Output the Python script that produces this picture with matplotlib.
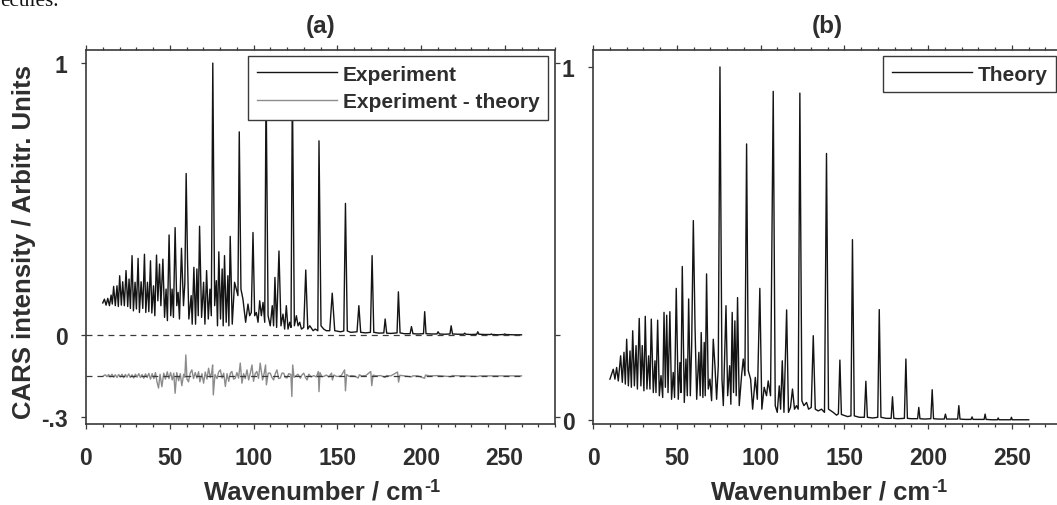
import matplotlib
matplotlib.use("Agg")
import matplotlib.pyplot as plt
from matplotlib.ticker import MultipleLocator, FixedLocator
from matplotlib.lines import Line2D

# ---------------- data ----------------
exp_x = [10.0, 11.0, 12.0, 13.0, 14.0, 15.0, 15.7, 16.5, 17.5, 18.5, 19.3, 20.1, 21.1, 21.9, 22.9, 23.9,
         24.9, 25.7, 26.5, 27.5, 28.3, 29.3, 30.1, 31.1, 31.9, 32.9, 33.9, 34.9, 35.7, 36.7, 37.5, 38.5,
         39.3, 40.3, 41.1, 42.1, 42.9, 43.9, 44.7, 45.9, 46.9, 47.8, 48.6, 49.6, 50.6, 51.4, 52.2, 53.2,
         54.2, 55.0, 55.8, 57.0, 58.2, 59.0, 59.8, 60.6, 61.4, 62.8, 63.4, 64.4, 65.4, 66.2, 67.0, 67.8,
         69.0, 70.2, 71.0, 72.0, 73.0, 74.0, 74.8, 75.7, 76.8, 77.8, 78.5, 79.3, 80.3, 81.3, 81.9, 82.7,
         83.7, 84.7, 85.3, 86.1, 87.3, 88.7, 89.7, 90.7, 91.5, 92.5, 93.7, 95.3, 96.7, 97.7, 98.7, 99.7,
         100.7, 101.7, 102.7, 103.7, 104.7, 105.7, 106.7, 107.5, 108.7, 110.0, 111.2, 112.0, 112.8, 113.8,
         115.2, 116.4, 117.6, 118.6, 119.6, 120.6, 121.6, 122.4, 123.2, 124.4, 125.6, 126.6, 127.6, 128.6,
         130.0, 131.2, 132.4, 133.6, 135.6, 136.8, 138.4, 139.1, 140.3, 141.9, 143.5, 145.5, 147.0, 148.5,
         152.0, 153.9, 154.9, 156.0, 158.0, 161.8, 162.9, 164.0, 167.0, 169.8, 170.8, 171.8, 175.0, 177.8,
         178.6, 179.5, 182.0, 185.7, 186.5, 187.5, 190.0, 193.5, 194.3, 195.2, 198.0, 201.5, 202.2, 203.0,
         206.0, 209.5, 210.2, 211.0, 214.0, 217.3, 218.0, 218.8, 222.0, 225.5, 226.1, 226.8, 230.0, 233.3,
         233.9, 234.6, 238.0, 241.5, 242.0, 242.5, 246.0, 249.4, 250.0, 250.6, 255.0, 260.0]
exp_y = [0.118, 0.132, 0.110, 0.135, 0.108, 0.147, 0.114, 0.179, 0.108, 0.181, 0.105, 0.218, 0.110, 0.196, 0.108, 0.237,
         0.105, 0.206, 0.098, 0.292, 0.089, 0.194, 0.096, 0.282, 0.083, 0.196, 0.098, 0.297, 0.083, 0.194, 0.086, 0.273,
         0.081, 0.181, 0.071, 0.294, 0.126, 0.261, 0.108, 0.279, 0.065, 0.169, 0.053, 0.368, 0.071, 0.169, 0.065, 0.395,
         0.108, 0.157, 0.059, 0.319, 0.108, 0.190, 0.594, 0.279, 0.059, 0.145, 0.040, 0.249, 0.040, 0.243, 0.071, 0.400,
         0.065, 0.194, 0.040, 0.237, 0.059, 0.169, 0.071, 1.000, 0.108, 0.200, 0.034, 0.306, 0.059, 0.243, 0.034, 0.292,
         0.047, 0.218, 0.034, 0.363, 0.040, 0.194, 0.169, 0.145, 0.747, 0.169, 0.132, 0.047, 0.114, 0.071, 0.083, 0.377,
         0.071, 0.083, 0.047, 0.126, 0.071, 0.120, 0.047, 0.930, 0.071, 0.034, 0.108, 0.034, 0.212, 0.028,
         0.309, 0.034, 0.077, 0.022, 0.108, 0.022, 0.047, 0.028, 0.920, 0.034, 0.071, 0.034, 0.047, 0.022,
         0.028, 0.239, 0.022, 0.034, 0.016, 0.022, 0.016, 0.714, 0.034, 0.022, 0.016, 0.016, 0.154, 0.016,
         0.012, 0.015, 0.484, 0.015, 0.010, 0.012, 0.108, 0.010, 0.008, 0.010, 0.292, 0.010, 0.007, 0.008,
         0.059, 0.007, 0.006, 0.008, 0.159, 0.008, 0.005, 0.005, 0.031, 0.005, 0.004, 0.005, 0.086, 0.005,
         0.004, 0.004, 0.012, 0.004, 0.003, 0.004, 0.034, 0.004, 0.003, 0.003, 0.007, 0.003, 0.002, 0.003,
         0.012, 0.003, 0.002, 0.002, 0.004, 0.002, 0.001, 0.002, 0.004, 0.002, 0.001, 0.001]

theo_x = [10.1, 11.1, 12.1, 13.1, 14.1, 15.1, 16.5, 17.5, 18.5, 19.3, 20.1, 21.1, 22.1, 22.9, 23.7, 24.7,
          25.7, 26.5, 27.6, 28.6, 29.4, 30.4, 31.2, 32.2, 33.2, 34.0, 34.8, 36.0, 37.0, 37.6, 38.6, 39.6,
          40.6, 41.6, 42.4, 43.2, 44.0, 44.8, 45.9, 46.9, 47.9, 48.7, 49.7, 50.9, 51.9, 52.5, 53.3, 54.5,
          55.5, 56.3, 57.1, 58.1, 58.9, 59.9, 60.9, 61.9, 63.2, 64.0, 64.6, 65.6, 66.4, 67.0, 67.8, 68.8,
          69.8, 70.8, 71.8, 72.8, 73.8, 74.8, 75.8, 77.0, 77.8, 79.4, 80.4, 81.6, 82.3, 83.1, 83.9, 84.7,
          85.5, 86.3, 87.3, 88.7, 89.7, 90.7, 91.7, 92.7, 94.1, 95.3, 96.9, 98.1, 99.6, 100.8, 102.2, 103.6,
          104.6, 106.0, 107.6, 108.8, 110.0, 111.2, 112.0, 113.0, 114.0, 115.6, 116.7, 117.9, 119.1, 120.3,
          121.5, 122.5, 123.5, 124.7, 125.9, 127.5, 128.7, 130.3, 131.5, 132.7, 134.5, 136.4, 138.2, 139.4,
          140.6, 143.4, 145.4, 146.5, 147.4, 148.3, 152.0, 154.0, 154.9, 156.0, 159.0, 162.0, 162.9, 163.8,
          167.0, 170.0, 170.9, 171.9, 175.0, 178.0, 178.8, 179.6, 182.0, 185.9, 186.8, 187.7, 190.0, 193.8,
          194.5, 195.2, 198.0, 201.7, 202.5, 203.3, 206.0, 209.7, 210.4, 211.1, 214.0, 217.7, 218.4, 219.1,
          222.0, 225.7, 226.3, 226.9, 230.0, 233.5, 234.1, 234.7, 238.0, 241.4, 241.9, 242.4, 246.0, 249.3,
          249.8, 250.3, 255.0, 260.1]
theo_y = [0.116, 0.130, 0.144, 0.116, 0.149, 0.111, 0.182, 0.107, 0.192, 0.102, 0.229, 0.097, 0.196, 0.093, 0.253, 0.097,
          0.211, 0.088, 0.288, 0.097, 0.211, 0.083, 0.294, 0.088, 0.182, 0.088, 0.286, 0.078, 0.168, 0.078, 0.283, 0.069,
          0.126, 0.064, 0.305, 0.093, 0.297, 0.078, 0.307, 0.059, 0.135, 0.064, 0.373, 0.059, 0.163, 0.078, 0.435, 0.050,
          0.173, 0.069, 0.343, 0.069, 0.211, 0.565, 0.267, 0.059, 0.192, 0.069, 0.248, 0.064, 0.220, 0.069, 0.414, 0.088,
          0.116, 0.055, 0.229, 0.154, 0.059, 0.154, 1.000, 0.116, 0.041, 0.324, 0.069, 0.154, 0.045, 0.305, 0.078, 0.281,
          0.069, 0.347, 0.041, 0.126, 0.173, 0.126, 0.782, 0.140, 0.116, 0.031, 0.121, 0.059, 0.373, 0.031, 0.093, 0.069,
          0.111, 0.069, 0.931, 0.041, 0.022, 0.097, 0.031, 0.168, 0.022, 0.312, 0.022, 0.036, 0.088, 0.031,
          0.041, 0.031, 0.926, 0.055, 0.041, 0.050, 0.031, 0.036, 0.239, 0.031, 0.026, 0.031, 0.022, 0.755,
          0.031, 0.022, 0.014, 0.018, 0.170, 0.016, 0.010, 0.012, 0.511, 0.012, 0.008, 0.008, 0.110, 0.008,
          0.006, 0.008, 0.313, 0.008, 0.005, 0.005, 0.066, 0.005, 0.004, 0.005, 0.173, 0.005, 0.004, 0.004,
          0.036, 0.004, 0.003, 0.004, 0.086, 0.004, 0.003, 0.003, 0.017, 0.003, 0.003, 0.003, 0.041, 0.003,
          0.002, 0.002, 0.009, 0.002, 0.002, 0.002, 0.017, 0.002, 0.001, 0.001, 0.006, 0.001, 0.001, 0.001,
          0.008, 0.001, 0.001, 0.001]

# experiment - theory (deviation around its own baseline)
resid_x = [10.4, 11.5, 12.5, 13.5, 14.5, 15.5, 16.5, 17.5, 18.5, 19.5, 20.5, 21.5, 22.5, 23.5, 24.5, 25.5,
           26.5, 27.5, 28.5, 29.5, 30.5, 31.5, 32.5, 33.5, 34.5, 35.5, 36.5, 37.5, 38.5, 39.5, 40.5, 41.5,
           42.3, 43.3, 44.2, 45.3, 46.4, 47.4, 48.5, 49.5, 50.5, 51.5, 52.4, 53.2, 54.2, 55.3, 56.3, 57.2,
           58.3, 59.0, 59.6, 60.3, 61.2, 62.2, 63.2, 64.2, 65.2, 66.2, 67.2, 68.0, 69.2, 70.2, 71.2, 72.2,
           73.2, 74.2, 75.0, 75.6, 76.0, 77.0, 78.2, 79.2, 80.2, 81.2, 82.2, 83.2, 84.2, 85.2, 86.2, 87.1,
           88.1, 89.1, 90.1, 91.1, 92.1, 93.1, 94.1, 95.1, 96.1, 97.1, 98.1, 99.1, 100.0, 101.0, 102.0, 103.0,
           104.0, 105.4, 106.4, 107.2, 107.7, 108.8, 110.0, 111.0, 112.0, 113.0, 114.0, 115.0, 116.0, 117.0,
           118.0, 119.0, 120.0, 121.0, 122.3, 122.9, 123.4, 124.2, 125.0, 126.5, 128.0, 129.0, 130.0, 131.0,
           132.0, 133.0, 134.5, 136.0, 137.5, 138.7, 139.1, 139.7, 140.8, 142.0, 143.5, 145.0, 146.6, 147.1,
           148.0, 149.5, 151.0, 152.5, 154.4, 154.9, 155.6, 157.0, 158.5, 160.5, 162.5, 163.2, 164.5, 167.0,
           170.0, 170.6, 171.4, 173.0, 176.0, 178.6, 179.5, 182.0, 186.0, 186.6, 187.4, 190.0, 194.3, 195.0,
           198.0, 202.1, 202.7, 205.0, 210.0, 218.0, 218.6, 225.0, 234.0, 235.0, 245.0, 260.0]
resid_y = [0.000, 0.004, -0.003, 0.005, -0.004, 0.006, -0.005, 0.004, -0.006, 0.005, -0.004, 0.006, -0.007, 0.005, -0.005, 0.007,
           -0.006, 0.004, -0.008, 0.006, -0.005, 0.008, -0.006, 0.005, -0.009, 0.007, -0.006, 0.009, -0.012, 0.008, -0.010, 0.012,
           -0.020, -0.045, 0.006, -0.040, 0.010, -0.012, 0.015, -0.010, 0.012, -0.015, 0.010, -0.064, 0.012, -0.018, 0.008, -0.036,
           0.006, -0.005, 0.077, -0.012, -0.022, 0.010, 0.022, -0.010, 0.012, -0.008, 0.015, -0.022, 0.008, -0.027, 0.014, -0.012,
           0.028, -0.006, 0.010, 0.040, -0.070, 0.005, -0.010, 0.014, 0.022, -0.008, 0.010, -0.039, 0.008, -0.020, 0.010, 0.016,
           -0.012, -0.009, 0.012, -0.008, 0.047, -0.027, 0.008, -0.010, 0.022, -0.015, 0.010, 0.040, -0.020, 0.008, 0.016, -0.009,
           0.047, -0.015, 0.010, 0.040, -0.033, 0.010, 0.010, -0.006, -0.015, 0.008, 0.022, -0.010, -0.008, 0.010,
           0.010, -0.006, -0.008, 0.008, 0.005, -0.076, 0.040, -0.005, -0.002, 0.006, -0.009, 0.004, 0.010, -0.006,
           -0.015, 0.006, -0.004, 0.001, -0.004, 0.016, -0.058, 0.012, -0.003, -0.002, 0.003, -0.004, 0.010, -0.015,
           0.003, -0.002, -0.002, 0.002, 0.022, -0.055, 0.005, -0.002, 0.001, -0.001, -0.008, 0.004, 0.000, 0.001,
           0.016, -0.036, 0.003, 0.000, 0.001, -0.006, 0.001, 0.000, 0.014, -0.023, 0.002, 0.000, -0.004, 0.000,
           0.000, -0.009, 0.003, 0.000, 0.001, -0.003, 0.001, 0.000, -0.002, 0.000, 0.000, 0.000]
resid_offset = -0.15

x_major = [0, 50, 100, 150, 200, 250]
ya_ticks = [-0.3, 0, 1]
ya_labels = ['-.3', '0', '1']
yb_ticks = [0, 1]
yb_labels = ['0', '1']

# ---------------- style ----------------
plt.rcParams['font.family'] = ['Liberation Sans', 'DejaVu Sans']
plt.rcParams['font.weight'] = 'bold'
plt.rcParams['lines.scale_dashes'] = False

TXT = '#2e2e2e'
AX = '#3a3a3a'
LINE = '#141414'
GREY = '#8c8c8c'
W, H = 1057, 506

fig = plt.figure(figsize=(W / 100, H / 100), dpi=100)

def px_axes(l, t, r, b):
    return fig.add_axes([l / W, 1 - b / H, (r - l) / W, (b - t) / H])

axa = px_axes(86, 51, 555, 425)
axb = px_axes(593, 51, 1062, 425)

for ax in (axa, axb):
    ax.set_xlim(0, 280)
    ax.xaxis.set_major_locator(FixedLocator(x_major))
    ax.xaxis.set_minor_locator(MultipleLocator(10))
    ax.tick_params(which='both', direction='out', top=True, right=True, color=AX, width=0.9,
                   labelcolor=TXT, labelsize=16.5)
    ax.tick_params(which='major', length=3.8)
    ax.tick_params(which='minor', length=2.2)
    ax.tick_params(axis='x', which='major', pad=12)
    ax.tick_params(axis='y', which='major', pad=9.5)
    for s in ax.spines.values():
        s.set_color(AX)
        s.set_linewidth(1.2)
    # x label with a hyphen superscript
    main = ax.text(0.5 - 7 / 469, -0.2005, 'Wavenumber / cm', transform=ax.transAxes, ha='center',
                   va='baseline', fontsize=18.5, fontweight='bold', color=TXT)
    ax.annotate('-1', xy=(1, 1), xycoords=main, xytext=(0.5, 1.5), textcoords='offset points',
                ha='left', va='top', fontsize=13, fontweight='bold', color=TXT)

# panel (a)
axa.set_ylim(-0.327, 1.048)
axa.yaxis.set_major_locator(FixedLocator(ya_ticks))
axa.set_yticklabels(ya_labels)
axa.yaxis.set_minor_locator(FixedLocator([]))
axa.hlines([0, resid_offset], 0, exp_x[-1], colors=AX, linewidth=0.9,
           linestyles=[(0, (4.3, 3.6))], zorder=3)
axa.plot(exp_x, exp_y, color=LINE, linewidth=1.0, zorder=2)
axa.plot(resid_x, [resid_offset + v for v in resid_y], color=GREY, linewidth=1.0, zorder=2)
axa.text(0.5, 1.047, '(a)', transform=axa.transAxes, ha='center', va='baseline',
         fontsize=17.5, fontweight='bold', color=TXT)
hnd_a = [Line2D([], [], color=LINE, linewidth=1.0), Line2D([], [], color=GREY, linewidth=1.0)]
leg_a = axa.legend(hnd_a, ['Experiment', 'Experiment - theory'], loc='upper right',
                   bbox_to_anchor=(0.985, 0.984), borderaxespad=0, fancybox=False, framealpha=1,
                   edgecolor=AX, prop={'size': 15, 'weight': 'bold'}, handlelength=3.85,
                   handletextpad=0.25, borderpad=0.42, labelspacing=0.4, labelcolor=TXT)
leg_a.get_frame().set_linewidth(1.0)

# panel (b)
axb.set_ylim(-0.011, 1.048)
axb.yaxis.set_major_locator(FixedLocator(yb_ticks))
axb.set_yticklabels(yb_labels)
axb.yaxis.set_minor_locator(FixedLocator([]))
axb.plot(theo_x, theo_y, color=LINE, linewidth=1.0, zorder=2)
axb.text(0.5, 1.047, '(b)', transform=axb.transAxes, ha='center', va='baseline',
         fontsize=17.5, fontweight='bold', color=TXT)
hnd_b = [Line2D([], [], color=LINE, linewidth=1.0)]
leg_b = axb.legend(hnd_b, ['Theory'], loc='upper right', bbox_to_anchor=(0.987, 0.984),
                   borderaxespad=0, fancybox=False, framealpha=1, edgecolor=AX,
                   prop={'size': 15, 'weight': 'bold'}, handlelength=3.85,
                   handletextpad=0.25, borderpad=0.42, labelcolor=TXT)
leg_b.get_frame().set_linewidth(1.0)

# shared y label and stray caption fragment at the top edge
fig.text(24 / W, 1 - 242 / H, 'CARS intensity / Arbitr. Units', rotation=90, ha='center', va='center',
         fontsize=18.5, fontweight='bold', color=TXT)
fig.text(0, 1 - 6.5 / H, 'ecules.', ha='left', va='baseline', fontsize=15.3,
         family='Liberation Serif', fontweight='normal', color='#111111')

fig.savefig('out.png', dpi=100)
